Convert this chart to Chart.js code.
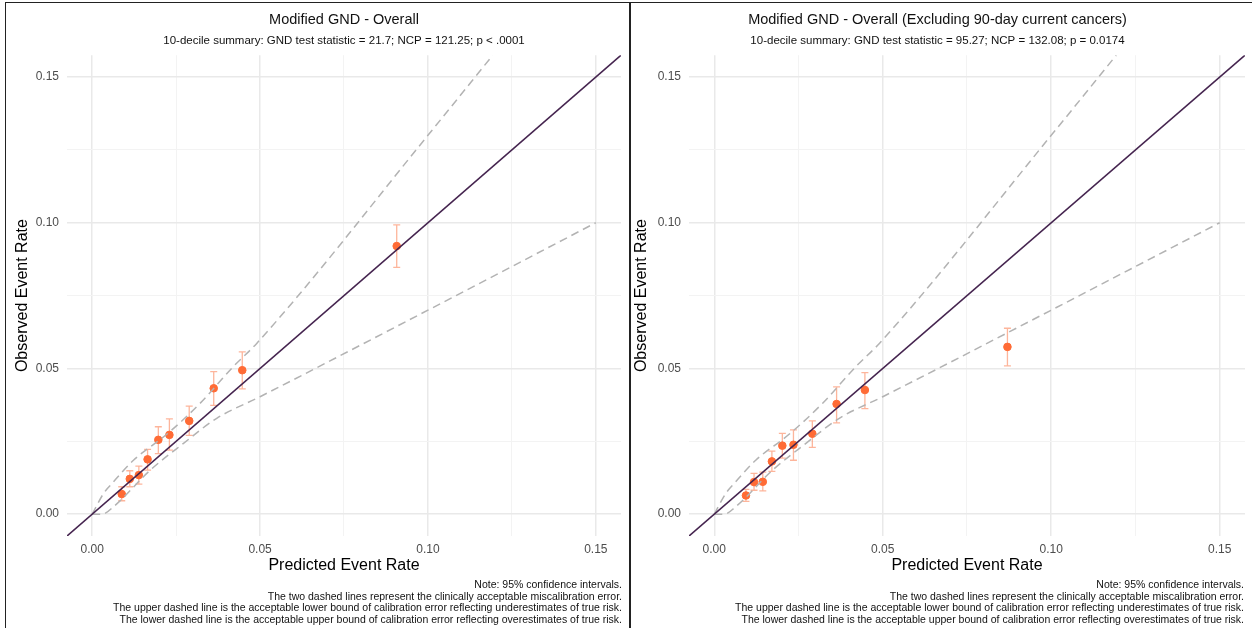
<!DOCTYPE html>
<html lang="en">
<head>
  <meta charset="UTF-8">
  <title>Modified GND calibration plots</title>
  <script src="https://cdn.jsdelivr.net/npm/chart.js"></script>
  <style>
    body { margin: 0; background: #fff; font-family: "Liberation Sans", Arial, sans-serif; }
    .page { position: relative; width: 1252px; height: 628px; overflow: hidden; }
    .panel { position: absolute; top: 0; height: 628px; }
    #panelLeft { left: 0; width: 630px; }
    #panelRight { left: 630px; width: 622px; }
    .note { position: absolute; right: 8px; top: 579px; font-size: 10.5px; line-height: 11.5px; text-align: right; color: #111; white-space: nowrap; }
    .frame { position: absolute; left: 5px; top: 2px; width: 1250px; height: 630px; border-left: 1.5px solid #222; border-top: 1.5px solid #222; box-sizing: border-box; pointer-events: none; }
    .divider { position: absolute; left: 629px; top: 2px; width: 2px; height: 626px; background: #222; }
  </style>
</head>
<body>
<div class="page">
  <div class="panel" id="panelLeft">
    <canvas id="chartLeft"></canvas>
    <div class="note">Note: 95% confidence intervals.<br>The two dashed lines represent the clinically acceptable miscalibration error.<br>The upper dashed line is the acceptable lower bound of calibration error reflecting underestimates of true risk.<br>The lower dashed line is the acceptable upper bound of calibration error reflecting overestimates of true risk.</div>
  </div>
  <div class="panel" id="panelRight">
    <canvas id="chartRight"></canvas>
    <div class="note">Note: 95% confidence intervals.<br>The two dashed lines represent the clinically acceptable miscalibration error.<br>The upper dashed line is the acceptable lower bound of calibration error reflecting underestimates of true risk.<br>The lower dashed line is the acceptable upper bound of calibration error reflecting overestimates of true risk.</div>
  </div>
  <div class="frame"></div>
  <div class="divider"></div>
</div>

<script>
// axis setup
const axisMin = -0.0075;
const axisMax = 0.1575;
const tickValues = [0, 0.025, 0.05, 0.075, 0.1, 0.125, 0.15];

// left panel: overall
const leftPred = [0.0088, 0.0112, 0.0139, 0.0165, 0.0197, 0.0230, 0.0289, 0.0362, 0.0447, 0.0907];
const leftObs  = [0.0069, 0.0121, 0.0134, 0.0188, 0.0255, 0.0272, 0.0320, 0.0432, 0.0494, 0.0920];
const leftLo   = [0.0046, 0.0094, 0.0103, 0.0151, 0.0208, 0.0220, 0.0270, 0.0373, 0.0430, 0.0847];
const leftHi   = [0.0094, 0.0149, 0.0165, 0.0222, 0.0300, 0.0327, 0.0371, 0.0489, 0.0557, 0.0993];

// right panel: excluding 90-day current cancers
const rightPred = [0.0094, 0.0118, 0.0144, 0.0171, 0.0202, 0.0235, 0.0291, 0.0363, 0.0447, 0.0870];
const rightObs  = [0.0064, 0.0110, 0.0111, 0.0181, 0.0235, 0.0238, 0.0276, 0.0378, 0.0426, 0.0574];
const rightLo   = [0.0044, 0.0082, 0.0080, 0.0147, 0.0192, 0.0185, 0.0229, 0.0313, 0.0362, 0.0509];
const rightHi   = [0.0085, 0.0140, 0.0144, 0.0216, 0.0277, 0.0289, 0.0320, 0.0437, 0.0486, 0.0638];

// acceptable miscalibration bounds (dashed)
const upperX = [0, 0.0034, 0.0059, 0.0123, 0.0222, 0.0321, 0.0420, 0.0490, 0.1000, 0.1193];
const upperY = [0, 0.0071, 0.0105, 0.0185, 0.0274, 0.0380, 0.0506, 0.0586, 0.1300, 0.1575];
const lowerX = [0, 0.0030, 0.0063, 0.0173, 0.0272, 0.0371, 0.0500, 0.1000, 0.1500];
const lowerY = [0, 0.0000, 0.0025, 0.0151, 0.0243, 0.0329, 0.0403, 0.0700, 0.1000];

const FONT = "'Liberation Sans', Arial, sans-serif";
const pts = (xs, ys) => xs.map((x, i) => ({ x: x, y: ys[i] }));
const isMajor = v => Math.abs(v / 0.05 - Math.round(v / 0.05)) < 1e-6;

// error bars drawn under the points
const errorBars = {
  id: 'errorBars',
  beforeDatasetDraw(chart, args, opts) {
    if (args.index !== 3) return;
    const ctx = chart.ctx, xs = chart.scales.x, ys = chart.scales.y;
    ctx.save();
    ctx.strokeStyle = 'rgba(252, 120, 72, 0.55)';
    ctx.lineWidth = 1.3;
    opts.x.forEach((x, i) => {
      const px = xs.getPixelForValue(x);
      const p1 = ys.getPixelForValue(opts.lo[i]);
      const p2 = ys.getPixelForValue(opts.hi[i]);
      ctx.beginPath();
      ctx.moveTo(px, p1); ctx.lineTo(px, p2);
      ctx.moveTo(px - 3.5, p1); ctx.lineTo(px + 3.5, p1);
      ctx.moveTo(px - 3.5, p2); ctx.lineTo(px + 3.5, p2);
      ctx.stroke();
    });
    ctx.restore();
  }
};

function axis(title, isY, yTitlePad, width) {
  return {
    type: 'linear',
    min: axisMin,
    max: axisMax,
    afterBuildTicks: s => { s.ticks = tickValues.map(v => ({ value: v })); },
    afterFit: s => { if (isY) s.width = width; else s.height = 40; },
    border: { display: false },
    grid: {
      drawTicks: false,
      color: c => (c.tick && isMajor(c.tick.value)) ? '#e9e9e9' : '#f3f3f3',
      lineWidth: c => (c.tick && isMajor(c.tick.value)) ? 1.5 : 1
    },
    ticks: {
      autoSkip: false,
      maxRotation: 0,
      padding: isY ? 8 : 6,
      color: '#4d4d4d',
      font: { family: FONT, size: 12 },
      callback: v => isMajor(v) ? v.toFixed(2) : ''
    },
    title: {
      display: true,
      text: title,
      color: '#000',
      font: { family: FONT, size: 16 },
      padding: isY ? { top: yTitlePad, bottom: 0 } : { top: 0, bottom: 1 }
    }
  };
}

function makeChart(id, t, sub, pred, obs, lo, hi, yW, yTitlePad, padRight, overPlot) {
  return new Chart(document.getElementById(id), {
    type: 'scatter',
    data: {
      datasets: [
        {
          type: 'line',
          data: pts([axisMin, axisMax], [axisMin, axisMax]),
          borderColor: '#45244f',
          borderWidth: 1.6,
          pointRadius: 0
        },
        {
          type: 'line',
          data: pts(upperX, upperY),
          borderColor: '#b3b3b3',
          borderWidth: 1.5,
          borderDash: [8, 5],
          pointRadius: 0,
          cubicInterpolationMode: 'monotone'
        },
        {
          type: 'line',
          data: pts(lowerX, lowerY),
          borderColor: '#b3b3b3',
          borderWidth: 1.5,
          borderDash: [8, 5],
          pointRadius: 0,
          cubicInterpolationMode: 'monotone'
        },
        {
          data: pts(pred, obs),
          backgroundColor: '#ff6b35',
          borderColor: '#ff6b35',
          pointRadius: 3.8
        }
      ]
    },
    options: {
      responsive: true,
      maintainAspectRatio: false,
      animation: false,
      layout: { padding: { left: 0, right: padRight, top: 0, bottom: 52 } },
      scales: {
        x: axis('Predicted Event Rate', false),
        y: axis('Observed Event Rate', true, yTitlePad, yW)
      },
      plugins: {
        legend: { display: false },
        tooltip: { enabled: false },
        title: {
          display: true, text: t, color: '#111', fullSize: !overPlot,
          font: { family: FONT, size: 14.5, weight: 'normal' },
          padding: { top: 11, bottom: 4 }
        },
        subtitle: {
          display: true, text: sub, color: '#111', fullSize: !overPlot,
          font: { family: FONT, size: 11.5 },
          padding: { top: 2, bottom: 7 }
        },
        errorBars: { x: pred, lo: lo, hi: hi }
      }
    },
    plugins: [errorBars]
  });
}

makeChart('chartLeft', 'Modified GND - Overall',
  '10-decile summary: GND test statistic = 21.7; NCP = 121.25; p < .0001',
  leftPred, leftObs, leftLo, leftHi, 67, 13, 9, true);
makeChart('chartRight', 'Modified GND - Overall (Excluding 90-day current cancers)',
  '10-decile summary: GND test statistic = 95.27; NCP = 132.08; p = 0.0174',
  rightPred, rightObs, rightLo, rightHi, 59, 2, 7, false);
</script>
</body>
</html>
